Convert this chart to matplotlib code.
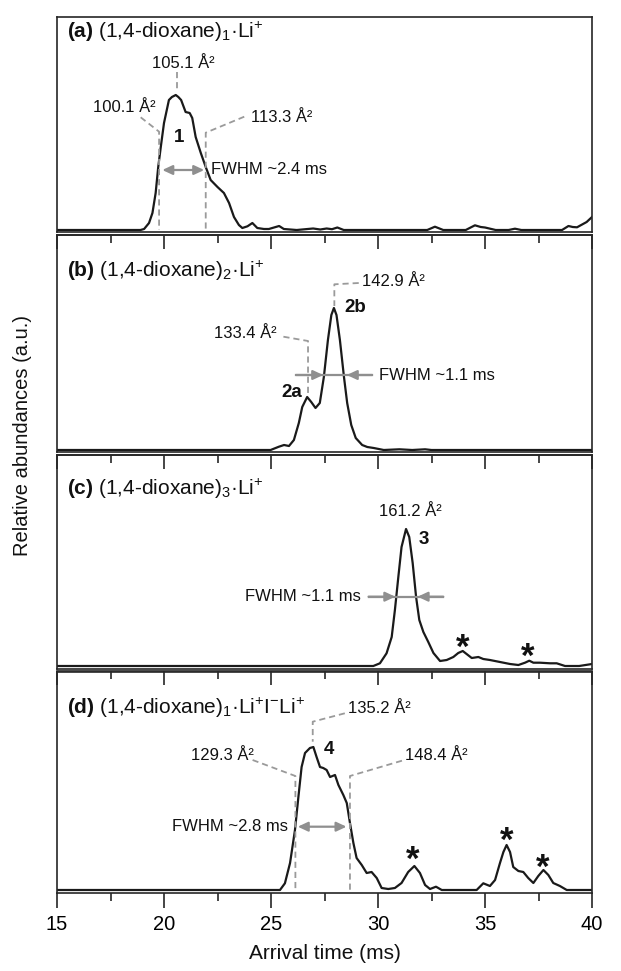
import matplotlib
matplotlib.use('Agg')
import matplotlib.pyplot as plt
from matplotlib.ticker import MultipleLocator

plt.rcParams['font.family'] = ['Liberation Sans', 'DejaVu Sans']
plt.rcParams['mathtext.fontset'] = 'custom'
plt.rcParams['mathtext.rm'] = 'Liberation Sans'
plt.rcParams['mathtext.it'] = 'Liberation Sans:italic'
plt.rcParams['mathtext.bf'] = 'Liberation Sans:bold'

# ---------------- data (arrival time in ms, relative abundance a.u.) ----------------
time_a = [15.0, 18.9, 19.07, 19.3, 19.46, 19.61, 19.73, 19.85, 20.0, 20.16, 20.23, 20.37, 20.55,
          20.67, 20.8, 21.01, 21.2, 21.32, 21.48, 21.72, 21.95, 22.18, 22.5, 22.8, 23.04, 23.27,
          23.5, 23.66, 23.9, 24.13, 24.36, 24.67, 24.9, 25.38, 25.6, 26.2, 26.97, 27.3, 27.6,
          27.85, 28.1, 28.4, 30.1, 32.3, 32.66, 33.05, 34.1, 34.53, 34.8, 35.0, 35.5, 36.1, 36.4,
          36.7, 38.6, 38.9, 39.1, 39.3, 39.75, 40.0]
abund_a = [0, 0, 1, 7, 17, 37, 63, 83, 107, 123, 130, 133, 135,
           133, 130, 118, 117, 112, 93, 77, 63, 50, 43, 37, 27, 13,
           5, 2, 3.7, 7, 2, 1, 1, 4, 1, 0, 1.5, 0.5, 1.5,
           0.8, 2.5, 0, 0, 0, 3.3, 0, 0, 4.7, 3, 2.5, 0, 0, 1.3,
           0, 0, 4, 3, 2.7, 8, 13]

time_b = [15.0, 24.98, 25.37, 25.61, 25.84, 26.07, 26.3, 26.46, 26.69, 26.88, 27.08, 27.28, 27.47,
          27.66, 27.82, 27.94, 28.06, 28.22, 28.41, 28.56, 28.75, 28.96, 29.26, 29.5, 29.8, 30.27,
          31.0, 31.6, 32.2, 32.5, 40.0]
abund_b = [0, 0, 3.3, 5, 4, 10, 27, 43, 53, 48, 42, 47, 73,
           110, 135, 142, 135, 110, 73, 47, 25, 12, 5, 3, 2, 0,
           0.7, 0, 0.7, 0, 0]

time_c = [15.0, 29.78, 30.09, 30.4, 30.64, 30.79, 30.95, 31.1, 31.31, 31.46, 31.62, 31.78, 31.93,
          32.12, 32.35, 32.59, 32.9, 33.21, 33.52, 33.75, 33.96, 34.14, 34.38, 34.69, 34.92, 35.23,
          35.7, 36.17, 36.56, 36.87, 37.07, 37.26, 37.57, 38.04, 38.35, 38.74, 39.4, 39.7, 40.0]
abund_c = [0, 0, 2.7, 12.7, 29, 56, 89, 119, 137, 129, 103, 69, 46,
           34, 24, 13, 5, 6, 9, 13, 15, 12, 8, 9, 7, 6,
           4, 2, 1, 3.3, 5.3, 3.3, 3.3, 2.7, 2.7, 0, 0, 1, 2]

time_d = [15.0, 25.42, 25.65, 25.89, 26.12, 26.28, 26.43, 26.59, 26.82, 26.98, 27.13, 27.29, 27.44,
          27.6, 27.76, 27.99, 28.15, 28.38, 28.54, 28.69, 28.85, 29.0, 29.24, 29.47, 29.7, 29.94,
          30.17, 30.48, 30.79, 31.1, 31.41, 31.7, 31.96, 32.2, 32.43, 32.71, 32.98, 34.61, 34.92,
          35.23, 35.47, 35.7, 35.86, 36.01, 36.17, 36.32, 36.56, 36.79, 37.02, 37.26, 37.49, 37.73,
          37.96, 38.19, 38.5, 38.82, 40.0]
abund_d = [0, 0, 6.7, 27, 60, 93, 123, 137, 142, 143, 133, 123, 122,
           120, 113, 115, 105, 95, 87, 67, 47, 32, 25, 17, 18, 12,
           2, 1, 2, 7, 18, 24, 17, 5, 1, 3.3, 0, 0, 6.7,
           4, 10, 27, 38, 45, 38, 23, 19, 18, 12, 7, 14, 20,
           15, 7, 4, 0, 0]

titles = [r"$\mathbf{(a)}$ (1,4-dioxane)$_{1}$·Li$^{+}$",
          r"$\mathbf{(b)}$ (1,4-dioxane)$_{2}$·Li$^{+}$",
          r"$\mathbf{(c)}$ (1,4-dioxane)$_{3}$·Li$^{+}$",
          r"$\mathbf{(d)}$ (1,4-dioxane)$_{1}$·Li$^{+}$I$^{-}$Li$^{+}$"]

x_ticks = [15, 20, 25, 30, 35, 40]
x_label = "Arrival time (ms)"
y_label = "Relative abundances (a.u.)"

# ---------------- layout ----------------
W, H = 621, 971
fig = plt.figure(figsize=(W / 100, H / 100), dpi=100)
left, right = 57, 592
panels_px = [(17, 232.5), (235.5, 452), (455, 668.5), (671.5, 893)]
baselines = [230, 450, 666, 890]
title_h = [198, 179, 177, 182]

LINE = '#1a1a1a'
DASH = '#9a9a9a'
ARROW = '#8f8f8f'
SPINE = '#262626'
dash_style = (0, (3.4, 2.2))

axes = []
for (top, bot), base in zip(panels_px, baselines):
    ax = fig.add_axes([left / W, 1 - bot / H, (right - left) / W, (bot - top) / H])
    ax.set_xlim(15, 40)
    ax.set_ylim(-(bot - base), base - top)
    ax.set_yticks([])
    ax.patch.set_visible(False)
    for s in ax.spines.values():
        s.set_linewidth(1.2)
        s.set_color(SPINE)
    ax.xaxis.set_major_locator(MultipleLocator(5))
    ax.xaxis.set_minor_locator(MultipleLocator(2.5))
    ax.tick_params(axis='x', which='both', bottom=False, top=False,
                   labelbottom=False, labeltop=False)
    axes.append(ax)

for i, ax in enumerate(axes):
    if i > 0:
        sec = ax.secondary_xaxis('top')
        sec.xaxis.set_major_locator(MultipleLocator(5))
        sec.xaxis.set_minor_locator(MultipleLocator(2.5))
        sec.tick_params(axis='x', which='both', direction='in', labeltop=False,
                        width=1.2, color=SPINE)
        sec.tick_params(axis='x', which='major', length=10)
        sec.tick_params(axis='x', which='minor', length=5.5)
        sec.spines['top'].set_linewidth(1.2)
        sec.spines['top'].set_color(SPINE)

axd = axes[3]
axd.set_xticks(x_ticks)
axd.tick_params(axis='x', which='both', bottom=True, direction='out', labelbottom=True,
                labelsize=14.5, width=1.2, color=SPINE, pad=5)
axd.tick_params(axis='x', which='major', length=10.5)
axd.tick_params(axis='x', which='minor', length=5.5)

series = [(time_a, abund_a), (time_b, abund_b), (time_c, abund_c), (time_d, abund_d)]
for ax, (t, a), title, th in zip(axes, series, titles, title_h):
    ax.plot(t, a, color=LINE, lw=1.6, solid_joinstyle='round')
    ax.text(15.45, th, title, fontsize=15, ha='left', va='center', color='#111111')


def dashed(ax, xs, ys):
    ax.plot(xs, ys, color=DASH, lw=1.3, linestyle=dash_style)


def label(ax, x, y, s, ha='center', size=12, bold=False):
    ax.text(x, y, s, fontsize=size, ha=ha, va='center', color='#111111',
            fontweight='bold' if bold else 'normal')


def double_arrow(ax, x0, x1, y):
    ax.annotate('', xy=(x1, y), xytext=(x0, y),
                arrowprops=dict(arrowstyle='<|-|>,head_length=0.6,head_width=0.28',
                                color=ARROW, lw=1.6, shrinkA=0, shrinkB=0))


def inward_arrows(ax, xl, hl, hr, xr, y):
    ax.plot([xl, xr], [y, y], color=ARROW, lw=1.6)
    for xs, xh in ((xl, hl), (xr, hr)):
        ax.annotate('', xy=(xh, y), xytext=(xs, y),
                    arrowprops=dict(arrowstyle='-|>,head_length=0.6,head_width=0.28',
                                    color=ARROW, lw=1.6, shrinkA=0, shrinkB=0))


def star(ax, x, y):
    ax.annotate('*', xy=(x, y), xytext=(0, -14), textcoords='offset points',
                ha='center', va='baseline', fontsize=25, fontweight='bold', color='#111111')


# panel a
ax = axes[0]
label(ax, 20.92, 167, "105.1 Å²")
dashed(ax, [20.63, 20.63], [158, 138])
label(ax, 18.16, 123, "100.1 Å²")
dashed(ax, [18.91, 19.77, 19.77], [112.7, 98.3, 0])
label(ax, 24.06, 112, "113.3 Å²", ha='left')
dashed(ax, [23.75, 21.95, 21.95], [113.3, 97.3, 0])
label(ax, 20.7, 93, "1", size=13.5, bold=True)
double_arrow(ax, 19.92, 21.88, 60)
label(ax, 22.2, 60, "FWHM ~2.4 ms", ha='left')

# panel b
ax = axes[1]
label(ax, 29.25, 168, "142.9 Å²", ha='left')
dashed(ax, [29.1, 27.96, 27.96], [167, 165.7, 144])
label(ax, 28.93, 142.5, "2b", size=13.5, bold=True)
label(ax, 25.24, 116.7, "133.4 Å²", ha='right')
dashed(ax, [25.58, 26.73, 26.73], [113.3, 109, 57])
label(ax, 25.97, 57.3, "2a", size=13.5, bold=True)
inward_arrows(ax, 26.18, 27.44, 28.54, 29.72, 75)
label(ax, 30.03, 75, "FWHM ~1.1 ms", ha='left')

# panel c
ax = axes[2]
label(ax, 31.51, 154, "161.2 Å²")
label(ax, 32.14, 126, "3", size=13.5, bold=True)
label(ax, 29.21, 69.3, "FWHM ~1.1 ms", ha='right')
inward_arrows(ax, 29.56, 30.81, 31.85, 33.05, 69.3)
star(ax, 33.98, 27.7)
star(ax, 37.0, 18.7)

# panel d
ax = axes[3]
label(ax, 28.61, 181.7, "135.2 Å²", ha='left')
dashed(ax, [28.45, 26.95, 26.95], [176.7, 168.3, 148.3])
label(ax, 24.22, 135, "129.3 Å²", ha='right')
dashed(ax, [24.14, 26.14, 26.14], [130, 114, 0])
label(ax, 31.27, 135, "148.4 Å²", ha='left')
dashed(ax, [31.12, 28.69, 28.69], [129.3, 114, 0])
label(ax, 27.7, 140.7, "4", size=13.5, bold=True)
double_arrow(ax, 26.25, 28.53, 63.3)
label(ax, 25.78, 63.3, "FWHM ~2.8 ms", ha='right')
star(ax, 31.6, 40)
star(ax, 36.02, 58.3)
star(ax, 37.68, 31.7)

fig.text(23 / W, 1 - 436 / H, y_label, rotation=90, ha='center', va='center', fontsize=14.5,
         color='#111111')
fig.text(324.5 / W, 1 - 953 / H, x_label, ha='center', va='center', fontsize=15, color='#111111')

fig.savefig('out.png', dpi=100)
